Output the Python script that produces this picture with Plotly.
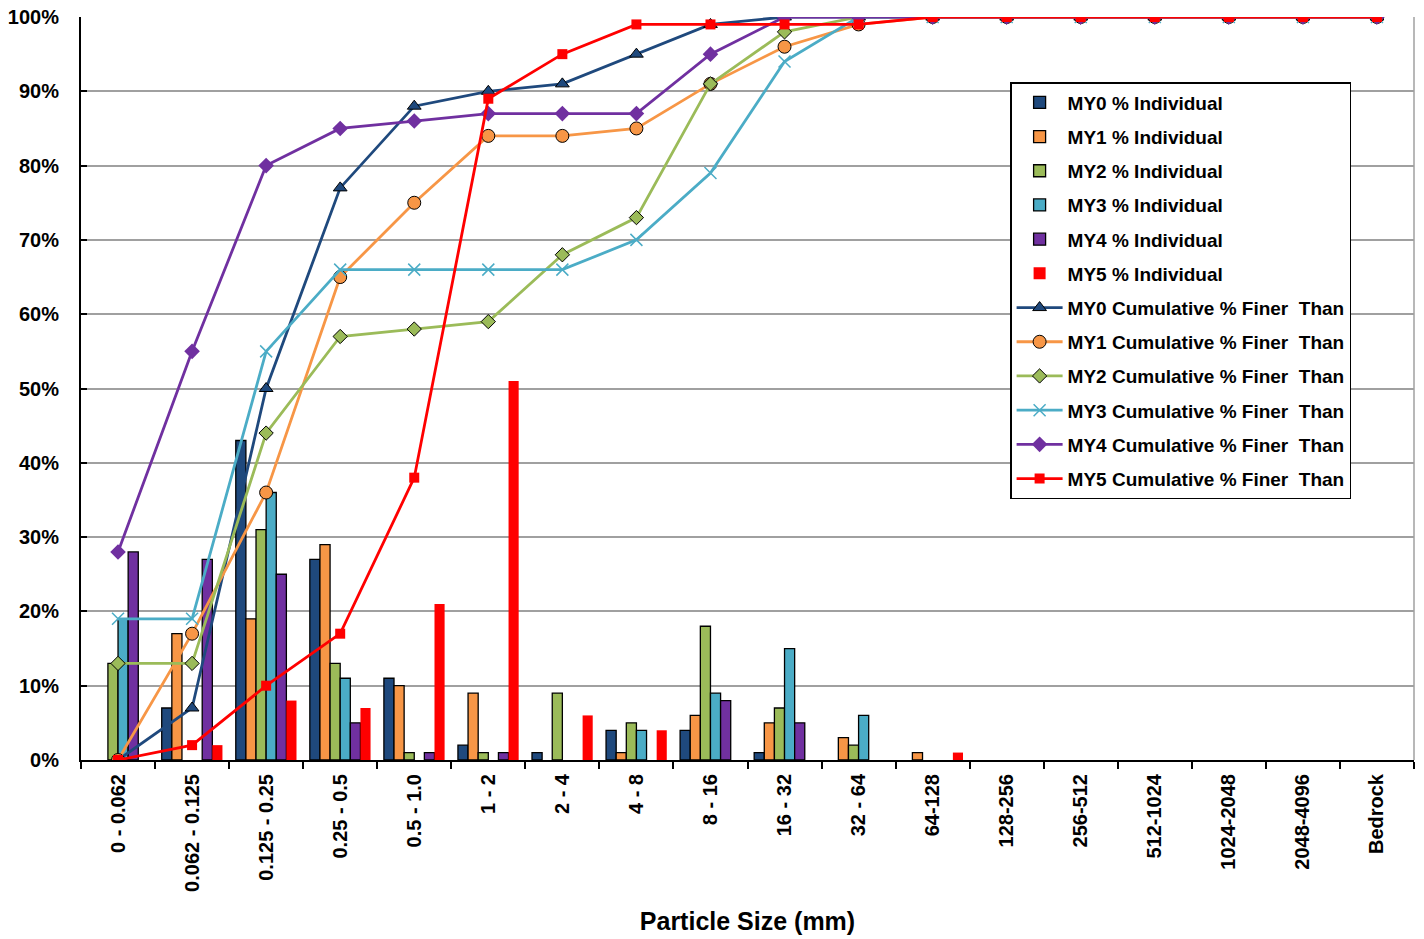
import plotly.graph_objects as go

categories = ["0 - 0.062", "0.062 - 0.125", "0.125 - 0.25", "0.25 - 0.5", "0.5 - 1.0",
              "1 - 2", "2 - 4", "4 - 8", "8 - 16", "16 - 32", "32 - 64", "64-128",
              "128-256", "256-512", "512-1024", "1024-2048", "2048-4096", "Bedrock"]

my0_ind = [0, 7, 43, 27, 11, 2, 1, 4, 4, 1, 0, 0, 0, 0, 0, 0, 0, 0]
my1_ind = [0, 17, 19, 29, 10, 9, 0, 1, 6, 5, 3, 1, 0, 0, 0, 0, 0, 0]
my2_ind = [13, 0, 31, 13, 1, 1, 9, 5, 18, 7, 2, 0, 0, 0, 0, 0, 0, 0]
my3_ind = [19, 0, 36, 11, 0, 0, 0, 4, 9, 15, 6, 0, 0, 0, 0, 0, 0, 0]
my4_ind = [28, 27, 25, 5, 1, 1, 0, 0, 8, 5, 0, 0, 0, 0, 0, 0, 0, 0]
my5_ind = [0, 2, 8, 7, 21, 51, 6, 4, 0, 0, 0, 1, 0, 0, 0, 0, 0, 0]

my0_cum = [0, 7, 50, 77, 88, 90, 91, 95, 99, 100, 100, 100, 100, 100, 100, 100, 100, 100]
my1_cum = [0, 17, 36, 65, 75, 84, 84, 85, 91, 96, 99, 100, 100, 100, 100, 100, 100, 100]
my2_cum = [13, 13, 44, 57, 58, 59, 68, 73, 91, 98, 100, 100, 100, 100, 100, 100, 100, 100]
my3_cum = [19, 19, 55, 66, 66, 66, 66, 70, 79, 94, 100, 100, 100, 100, 100, 100, 100, 100]
my4_cum = [28, 55, 80, 85, 86, 87, 87, 87, 95, 100, 100, 100, 100, 100, 100, 100, 100, 100]
my5_cum = [0, 2, 10, 17, 38, 89, 95, 99, 99, 99, 99, 100, 100, 100, 100, 100, 100, 100]

y_ticks = [0, 10, 20, 30, 40, 50, 60, 70, 80, 90, 100]
y_labels = [f"{v}%" for v in y_ticks]

colors = ["#1F497D", "#F79646", "#9BBB59", "#4BACC6", "#7030A0", "#FF0000"]
FONT = "Liberation Sans, Arial, sans-serif"

fig = go.Figure()

ind_series = [("MY0 % Individual", my0_ind), ("MY1 % Individual", my1_ind),
              ("MY2 % Individual", my2_ind), ("MY3 % Individual", my3_ind),
              ("MY4 % Individual", my4_ind), ("MY5 % Individual", my5_ind)]
for i, (name, vals) in enumerate(ind_series):
    fig.add_trace(go.Bar(
        x=categories, y=[v if v else None for v in vals], name=name, legendgroup=name,
        marker=dict(color=colors[i],
                    line=dict(color="black", width=0 if i == 5 else 1.3)),
    ))

sp = "\u00a0"
cum_series = [("MY0 Cumulative % Finer" + sp + " Than", my0_cum),
              ("MY1 Cumulative % Finer" + sp + " Than", my1_cum),
              ("MY2 Cumulative % Finer" + sp + " Than", my2_cum),
              ("MY3 Cumulative % Finer" + sp + " Than", my3_cum),
              ("MY4 Cumulative % Finer" + sp + " Than", my4_cum),
              ("MY5 Cumulative % Finer" + sp + " Than", my5_cum)]
markers = [
    dict(symbol="triangle-up", size=12, color=colors[0], line=dict(color="black", width=1)),
    dict(symbol="circle", size=13, color=colors[1], line=dict(color="black", width=1)),
    dict(symbol="diamond", size=11, color=colors[2], line=dict(color="black", width=1)),
    dict(symbol="x-thin", size=12, color=colors[3], line=dict(color=colors[3], width=1.5)),
    dict(symbol="diamond", size=12, color=colors[4], line=dict(color=colors[4], width=0)),
    dict(symbol="square", size=10, color=colors[5], line=dict(color=colors[5], width=0)),
]
for i, (name, vals) in enumerate(cum_series):
    fig.add_trace(go.Scatter(
        x=categories, y=vals, name=name, legendgroup=name, mode="lines+markers",
        line=dict(color=colors[i], width=2.8), marker=markers[i],
    ))

fig.update_layout(
    width=1424, height=939,
    margin=dict(l=81, r=10, t=17, b=179),
    paper_bgcolor="white", plot_bgcolor="white",
    barmode="group", bargap=0.18, bargroupgap=0,
    font=dict(family=FONT, color="black"),
    showlegend=True,
    legend=dict(
        x=0.697, y=0.9125, xanchor="left", yanchor="top",
        bgcolor="white", bordercolor="black", borderwidth=1.5,
        font=dict(family=FONT, size=19, weight="bold", color="black"),
        tracegroupgap=6.5, itemwidth=46,
    ),
    xaxis=dict(
        type="category", categoryorder="array", categoryarray=categories,
        range=[-0.5, len(categories) - 0.5],
        showline=True, linecolor="black", linewidth=2,
        ticks="outside", ticklen=7, tickwidth=1.5, tickcolor="black",
        tickson="boundaries", tickangle=-90, showgrid=False,
        tickfont=dict(family=FONT, size=20, weight="bold", color="black"),
        ticklabelstandoff=4,
        title=dict(text="Particle Size (mm)",
                   font=dict(family=FONT, size=25, weight="bold", color="black"),
                   standoff=22),
        automargin=False,
    ),
    yaxis=dict(
        range=[0, 100], tickmode="array", tickvals=y_ticks, ticktext=y_labels,
        showline=True, linecolor="black", linewidth=2,
        ticks="inside", ticklen=6, tickwidth=1.5, tickcolor="black",
        showgrid=True, gridcolor="#A0A0A0", gridwidth=1.5,
        zeroline=False, ticklabeloverflow="allow",
        tickfont=dict(family=FONT, size=20, weight="bold", color="black"),
        ticklabelstandoff=16,
        automargin=False,
    ),
    shapes=[dict(type="line", xref="paper", yref="paper", x0=1, x1=1, y0=0, y1=1,
                 line=dict(color="#A0A0A0", width=1.5))],
)

# remove the browser's default 8px body margin so the figure fills the window
fig.write_html("out.html", config={"displayModeBar": False},
               post_script="document.body.style.margin='0';")
